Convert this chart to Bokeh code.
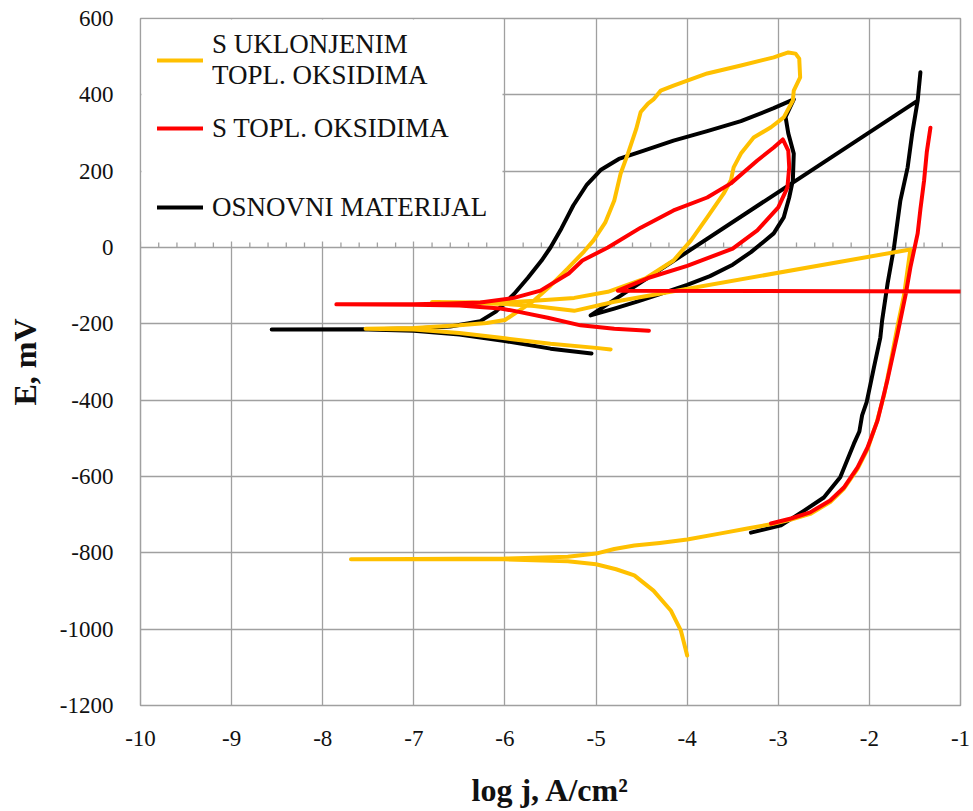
import numpy as np
from bokeh.plotting import figure
from bokeh.models import Legend, LegendItem, FixedTicker, BoxAnnotation
from bokeh.embed import file_html
from bokeh.resources import INLINE

nan = float("nan")

# ---------------- data (log j [A/cm2], E [mV]) ----------------
# OSNOVNI MATERIJAL (black): cyclic scan, joining line, Tafel scan
black_x = [-5.05, -5.5, -6.0, -6.5, -7.0, -7.5, -8.56,
           -7.5, -7.0, -6.6, -6.27, -6.1, -5.9, -5.75, -5.6, -5.5, -5.38, -5.25, -5.1, -4.95, -4.75, -4.5, -4.15, -3.78, -3.41, -3.05, -2.83,
           -2.92, -2.89, -2.83, -2.84, -2.88, -2.94, -3.05, -3.15, -3.3, -3.5, -3.75, -4.0, -4.3, -4.55, -4.8, -5.06,
           -1.47, nan,
           -1.44, -1.47, -1.53, -1.58, -1.66, -1.73, -1.8, -1.86, -1.88, -1.95, -1.99, -2.03, -2.08, -2.11, -2.17, -2.32, -2.5, -2.72, -2.97, -3.30]
black_y = [-278, -265, -245, -228, -218, -215, -215,
           -214, -212, -207, -193, -168, -122, -80, -35, 0, 50, 110, 165, 203, 232, 252, 280, 305, 331, 365, 388,
           342, 299, 246, 176, 131, 79, 37, 17, -12, -45, -75, -98, -122, -142, -160, -178,
           385, nan,
           459, 385, 299, 210, 123, 0, -94, -191, -236, -314, -360, -405, -440, -482, -514, -602, -655, -690, -728, -747]

# S UKLONJENIM TOPL. OKSIDIMA (orange)
orange_x = [-4.84, -5.0, -5.5, -6.0, -6.5, -7.0, -7.53,
            -7.0, -6.5, -6.2, -6.0, -5.86, -5.68, -5.5, -5.31, -5.13, -5.03, -4.9, -4.8, -4.73, -4.65, -4.56, -4.51, -4.43, -4.37, -4.29, -4.15, -3.78, -3.41, -3.05, -2.89, -2.81, -2.77, -2.76, -2.83, -2.84, -2.94, -3.08, -3.27, -3.41, -3.49, -3.52, -3.6, -3.78, -3.96, -4.15, -4.45, -4.87, -5.24, -5.72, -6.08, -6.8,
            -6.3, -6.0, -5.68, -5.45, -5.24,
            -4.8, -1.55,
            -1.62, -1.69, -1.77, -1.84, -1.92, -2.02, -2.13, -2.28, -2.43, -2.65, -2.86, -3.08, -3.34, -3.63, -4.0, -4.3, -4.58, -4.8, -5.0, -5.31, -6.0, -7.0, -7.69,
            -7.0, -6.0, -5.31, -5.0, -4.78, -4.58, -4.37, -4.18, -4.07, -4.0]
orange_y = [-267, -263, -252, -238, -224, -215, -213,
            -211, -204, -198, -190, -168, -139, -100, -55, -10, 18, 65, 123, 194, 246, 310, 355, 377, 388, 411, 424, 456, 477, 498, 511, 508, 495, 446, 411, 385, 341, 315, 288, 246, 210, 176, 141, 79, 18, -34, -80, -116, -132, -140, -145, -143,
            -146, -148, -153, -160, -166,
            -142, -5,
            -125, -205, -304, -388, -458, -528, -580, -632, -667, -698, -713, -725, -736, -749, -765, -774, -781, -790, -802, -810, -815, -816, -817,
            -817, -817, -822, -830, -843, -859, -899, -951, -1003, -1069]

# S TOPL. OKSIDIMA (red)
red_x = [-4.42, -4.8, -5.17, -5.53, -5.9, -6.05, -6.5, -7.0, -7.85,
         -7.0, -6.6, -6.27, -5.9, -5.61, -5.3, -5.15, -4.87, -4.51, -4.15, -3.78, -3.52, -3.23, -3.05, -2.95,
         -2.89, -2.88, -2.9, -3.0, -3.23, -3.5, -4.0, -4.43, -4.76,
         -1.0, nan,
         -1.33, -1.37, -1.40, -1.44, -1.47, -1.55, -1.6, -1.69, -1.8, -1.91, -2.02, -2.13, -2.28, -2.43, -2.65, -2.86, -3.08]
red_y = [-218, -213, -204, -184, -166, -160, -152, -150, -149,
         -149, -147, -144, -132, -113, -68, -34, 0, 52, 97, 131, 168, 228, 262, 283,
         254, 210, 157, 105, 45, -3, -48, -80, -113,
         -115, nan,
         314, 250, 175, 100, 37, -52, -121, -225, -345, -453, -524, -576, -629, -663, -694, -710, -723]

x_ticks = list(range(-10, 0))
y_ticks = list(range(-1200, 601, 200))
minor_step = 0.2

legend_labels = ["S UKLONJENIM\nTOPL. OKSIDIMA", "S TOPL. OKSIDIMA", "OSNOVNI MATERIJAL"]
x_title = "log j, A/cm²"
y_title = "E, mV"

# ---------------- figure ----------------
GRID = "#a0a0a0"
TXT = "#111111"
p = figure(width=973, height=811, x_range=(-10, -1), y_range=(-1200, 600),
           output_backend="svg", toolbar_location=None,
           min_border_left=140, min_border_right=13, min_border_top=18, min_border_bottom=106)
p.background_fill_color = "white"
p.border_fill_color = "white"
p.outline_line_color = GRID
p.outline_line_width = 1.5

p.xaxis.ticker = FixedTicker(ticks=x_ticks)
p.yaxis.ticker = FixedTicker(ticks=y_ticks)
p.xaxis.major_label_overrides = {t: str(t) for t in x_ticks}
p.yaxis.major_label_overrides = {t: str(t) for t in y_ticks}
p.xgrid.grid_line_color = GRID
p.ygrid.grid_line_color = GRID
p.xgrid.grid_line_width = 1.3
p.ygrid.grid_line_width = 1.3

for axes in (p.xaxis, p.yaxis):
    axes.axis_line_color = None
    axes.major_tick_line_color = None
    axes.minor_tick_line_color = None
    axes.major_tick_out = 0
    axes.major_tick_in = 0
    axes.minor_tick_out = 0
    axes.minor_tick_in = 0
    axes.major_label_text_font = "Liberation Serif"
    axes.major_label_text_font_size = "23px"
    axes.major_label_text_color = TXT
    axes.axis_label_text_font = "Liberation Serif"
    axes.axis_label_text_font_style = "bold"
    axes.axis_label_text_font_size = "32px"
    axes.axis_label_text_color = TXT

p.xaxis.major_label_standoff = 25
p.yaxis.major_label_standoff = 27
p.xaxis.axis_label = x_title
p.xaxis.axis_label_standoff = 23
p.yaxis.axis_label = y_title
p.yaxis.axis_label_standoff = 14

# white panel behind the legend (hides the grid there)
p.add_layout(BoxAnnotation(left=1, right=362, bottom=464, top=686,
                           left_units="screen", right_units="screen",
                           bottom_units="screen", top_units="screen",
                           fill_color="white", fill_alpha=1.0, line_color=None,
                           level="underlay"))

# minor ticks on the x axis line that crosses at E = 0
minor = [v for v in np.arange(x_ticks[0], x_ticks[-1] + 1 + 1e-9, minor_step)
         if abs(v - round(v)) > 1e-6]
p.segment(x0=minor, y0=[0] * len(minor), x1=minor, y1=[13] * len(minor),
          line_color=GRID, line_width=1.3)

r_black = p.line(black_x, black_y, line_color="#000000", line_width=4, line_join="round", line_cap="round")
r_orange = p.line(orange_x, orange_y, line_color="#FFC000", line_width=4, line_join="round", line_cap="round")
r_red = p.line(red_x, red_y, line_color="#FF0000", line_width=4, line_join="round", line_cap="round")

common = dict(label_text_font="Liberation Serif", label_text_font_size="27px",
              label_text_line_height=1.15, label_text_color=TXT,
              glyph_width=46, label_standoff=9,
              background_fill_alpha=0.0, border_line_color=None, margin=0, padding=0)
leg_a = Legend(items=[LegendItem(label=legend_labels[0], renderers=[r_orange]),
                      LegendItem(label=legend_labels[1], renderers=[r_red])],
               location=(17, 546), spacing=6, glyph_height=62, label_height=62, **common)
leg_b = Legend(items=[LegendItem(label=legend_labels[2], renderers=[r_black])],
               location=(17, 478), spacing=0, glyph_height=40, label_height=40, **common)
p.add_layout(leg_a)
p.add_layout(leg_b)

open("out.html", "w").write(file_html(p, INLINE))
